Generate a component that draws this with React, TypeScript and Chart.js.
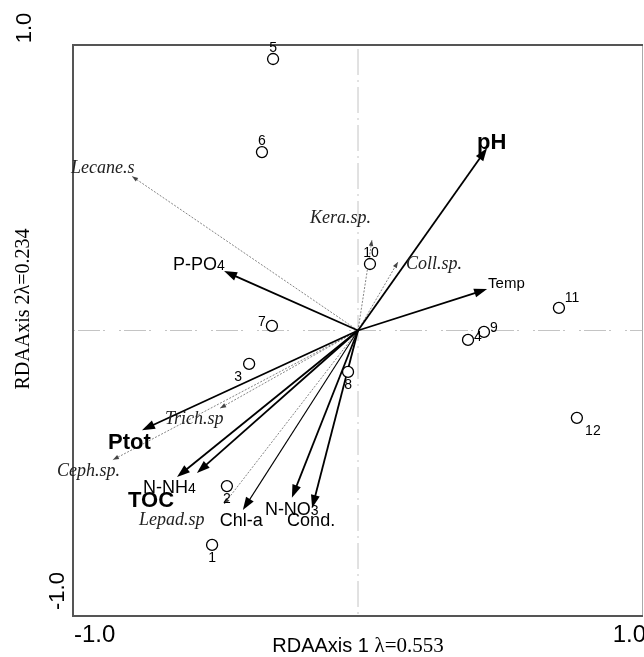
import React, { useEffect, useRef } from "react";
import { Chart, registerables } from "chart.js";

Chart.register(...registerables);

// ---- data ----
const siteLabels = ["1", "2", "3", "4", "5", "6", "7", "8", "9", "10", "11", "12"];
const siteX = [-0.512, -0.46, -0.382, 0.386, -0.298, -0.337, -0.302, -0.035, 0.442, 0.042, 0.705, 0.768];
const siteY = [-0.751, -0.545, -0.117, -0.033, 0.951, 0.625, 0.016, -0.145, -0.005, 0.233, 0.079, -0.306];

const envNames = ["pH", "Temp", "P-PO4", "Ptot", "TOC", "N-NH4", "Chl-a", "N-NO3", "Cond."];
const envX = [0.453, 0.453, -0.47, -0.758, -0.635, -0.565, -0.404, -0.232, -0.161];
const envY = [0.639, 0.145, 0.208, -0.349, -0.513, -0.499, -0.629, -0.586, -0.622];

const speciesNames = ["Lecane.s", "Kera.sp.", "Coll.sp.", "Trich.sp", "Ceph.sp.", "Lepad.sp"];
const speciesX = [-0.793, 0.049, 0.14, -0.484, -0.86, -0.47];
const speciesY = [0.54, 0.317, 0.24, -0.272, -0.453, -0.608];

const axisMin = -1.0;
const axisMax = 1.0;
const xTitleMain = "RDAAxis 1 ";
const xTitleLambda = "λ=0.553";
const yTitle = "RDAAxis 2λ=0.234";

// ---- styles (positions of labels relative to arrow tips / points, px) ----
const siteLabelOffsets: [number, number][] = [
  [0, 13], [0, 13], [-11, 13], [10, -3], [0, -11], [0, -11],
  [-10, -4], [0, 13], [10, -4], [1, -11], [13, -10], [16, 13],
];
// [dx, dy, fontSize, bold]
const envLabelStyle: [number, number, number, boolean][] = [
  [-10, 1, 22, true],
  [1, -1, 15, false],
  [-51, -1, 18, false],
  [-34, 19, 22, true],
  [-49, 30, 22, true],
  [-54, 20, 18, false],
  [-23, 16, 18, false],
  [-27, 17, 18, false],
  [-25, 18, 18, false],
];
const envThin = [false, false, false, false, false, false, true, false, false];
const speciesLabelOffsets: [number, number][] = [
  [-61, -3], [-62, -17], [8, 7], [-55, 16], [-56, 16], [-85, 21],
];

function arrowHead(ctx: CanvasRenderingContext2D, x0: number, y0: number, x1: number, y1: number, L: number, W: number) {
  const a = Math.atan2(y1 - y0, x1 - x0);
  const bx = x1 - L * Math.cos(a);
  const by = y1 - L * Math.sin(a);
  ctx.beginPath();
  ctx.moveTo(x1, y1);
  ctx.lineTo(bx + W * Math.sin(a), by - W * Math.cos(a));
  ctx.lineTo(bx - W * Math.sin(a), by + W * Math.cos(a));
  ctx.closePath();
  ctx.fill();
}

function drawSubLabel(ctx: CanvasRenderingContext2D, text: string, x: number, y: number, size: number, bold: boolean) {
  const m = text.match(/^([NP]-.*?)(\d)$/);
  const font = (s: number) => `${bold ? "bold " : ""}${s}px "Liberation Sans", Arial, sans-serif`;
  ctx.textAlign = "left";
  ctx.textBaseline = "alphabetic";
  if (m) {
    ctx.font = font(size);
    ctx.fillText(m[1], x, y);
    const w = ctx.measureText(m[1]).width;
    ctx.font = font(Math.round(size * 0.75));
    ctx.fillText(m[2], x + w, y);
  } else {
    ctx.font = font(size);
    ctx.fillText(text, x, y);
  }
}

const rdaPlugin = {
  id: "rda",
  beforeDatasetsDraw(chart: any) {
    const { ctx, chartArea: ca, scales } = chart;
    const xs = scales.x;
    const ys = scales.y;
    const cx = xs.getPixelForValue(0);
    const cy = ys.getPixelForValue(0);
    ctx.save();
    // center lines
    ctx.strokeStyle = "#c4c4c4";
    ctx.lineWidth = 1;
    ctx.setLineDash([26, 5, 2, 5]);
    ctx.beginPath();
    ctx.moveTo(cx, ca.top + 4);
    ctx.lineTo(cx, ca.bottom);
    ctx.stroke();
    ctx.setLineDash([2, 3, 22, 3, 2, 14]);
    ctx.beginPath();
    ctx.moveTo(ca.left, cy);
    ctx.lineTo(ca.right, cy);
    ctx.stroke();
    ctx.setLineDash([]);

    // box
    ctx.strokeStyle = "#aaaaaa";
    ctx.lineWidth = 1;
    ctx.beginPath();
    ctx.moveTo(ca.right - 0.5, ca.top);
    ctx.lineTo(ca.right - 0.5, ca.bottom);
    ctx.stroke();
    ctx.strokeStyle = "#555555";
    ctx.lineWidth = 2;
    ctx.beginPath();
    ctx.moveTo(ca.right, ca.top);
    ctx.lineTo(ca.left, ca.top);
    ctx.lineTo(ca.left, ca.bottom);
    ctx.lineTo(ca.right, ca.bottom);
    ctx.stroke();

    // species arrows
    speciesNames.forEach((_, i) => {
      const tx = xs.getPixelForValue(speciesX[i]);
      const ty = ys.getPixelForValue(speciesY[i]);
      ctx.strokeStyle = "#666666";
      ctx.fillStyle = "#444444";
      ctx.lineWidth = 0.8;
      ctx.setLineDash([2, 1.5]);
      ctx.beginPath();
      ctx.moveTo(cx, cy);
      ctx.lineTo(tx, ty);
      ctx.stroke();
      ctx.setLineDash([]);
      arrowHead(ctx, cx, cy, tx, ty, 6, 2.2);
    });

    // env arrows
    envNames.forEach((_, i) => {
      const tx = xs.getPixelForValue(envX[i]);
      const ty = ys.getPixelForValue(envY[i]);
      ctx.strokeStyle = "#000";
      ctx.fillStyle = "#000";
      ctx.lineWidth = envThin[i] ? 1.1 : 1.8;
      const a = Math.atan2(ty - cy, tx - cx);
      ctx.beginPath();
      ctx.moveTo(cx, cy);
      ctx.lineTo(tx - 8 * Math.cos(a), ty - 8 * Math.sin(a));
      ctx.stroke();
      arrowHead(ctx, cx, cy, tx, ty, 13, 4.5);
    });
    ctx.restore();
  },
  afterDatasetsDraw(chart: any) {
    const { ctx, scales, chartArea: ca } = chart;
    const xs = scales.x;
    const ys = scales.y;
    ctx.save();
    ctx.fillStyle = "#000";
    // site labels
    ctx.font = '14px "Liberation Sans", Arial, sans-serif';
    ctx.textAlign = "center";
    ctx.textBaseline = "middle";
    siteLabels.forEach((s, i) => {
      const px = xs.getPixelForValue(siteX[i]);
      const py = ys.getPixelForValue(siteY[i]);
      ctx.fillText(s, px + siteLabelOffsets[i][0], py + siteLabelOffsets[i][1]);
    });
    // env labels
    envNames.forEach((n, i) => {
      const tx = xs.getPixelForValue(envX[i]);
      const ty = ys.getPixelForValue(envY[i]);
      const [dx, dy, size, bold] = envLabelStyle[i];
      drawSubLabel(ctx, n, tx + dx, ty + dy, size, bold);
    });
    // species labels
    ctx.fillStyle = "#222";
    ctx.font = 'italic 18px "Liberation Serif", "Times New Roman", serif';
    ctx.textAlign = "left";
    ctx.textBaseline = "alphabetic";
    speciesNames.forEach((n, i) => {
      const tx = xs.getPixelForValue(speciesX[i]);
      const ty = ys.getPixelForValue(speciesY[i]);
      ctx.fillText(n, tx + speciesLabelOffsets[i][0], ty + speciesLabelOffsets[i][1]);
    });

    // tick labels
    ctx.fillStyle = "#000";
    ctx.font = '24px "Liberation Sans", Arial, sans-serif';
    ctx.textBaseline = "middle";
    ctx.textAlign = "left";
    ctx.fillText(axisMin.toFixed(1), ca.left + 1, ca.bottom + 19);
    ctx.textAlign = "right";
    ctx.fillText(axisMax.toFixed(1), ca.right + 3, ca.bottom + 19);
    ctx.font = '22px "Liberation Sans", Arial, sans-serif';
    ctx.save();
    ctx.translate(25, 28);
    ctx.rotate(-Math.PI / 2);
    ctx.textAlign = "center";
    ctx.fillText(axisMax.toFixed(1), 0, 0);
    ctx.restore();
    ctx.save();
    ctx.translate(58, 591);
    ctx.rotate(-Math.PI / 2);
    ctx.textAlign = "center";
    ctx.fillText(axisMin.toFixed(1), 0, 0);
    ctx.restore();

    // axis titles
    ctx.textBaseline = "middle";
    const f1 = '20px "Liberation Sans", Arial, sans-serif';
    const f2 = '21px "Liberation Serif", "Times New Roman", serif';
    ctx.font = f1;
    const w1 = ctx.measureText(xTitleMain).width;
    ctx.font = f2;
    const w2 = ctx.measureText(xTitleLambda).width;
    const startX = (ca.left + ca.right) / 2 - (w1 + w2) / 2;
    ctx.textAlign = "left";
    ctx.font = f1;
    ctx.fillText(xTitleMain, startX, 646);
    ctx.font = f2;
    ctx.fillText(xTitleLambda, startX + w1, 646);

    ctx.save();
    ctx.translate(24, 309);
    ctx.rotate(-Math.PI / 2);
    ctx.textAlign = "center";
    ctx.font = '20px "Liberation Serif", "Times New Roman", serif';
    ctx.fillText(yTitle, 0, 0);
    ctx.restore();
    ctx.restore();
  },
};

export default function App() {
  const ref = useRef<HTMLCanvasElement | null>(null);
  useEffect(() => {
    if (!ref.current) return;
    const chart = new Chart(ref.current, {
      type: "scatter",
      data: {
        datasets: [
          {
            label: "Sites",
            data: siteX.map((x, i) => ({ x, y: siteY[i] })),
            pointRadius: 5.5,
            pointBackgroundColor: "#ffffff",
            pointBorderColor: "#000000",
            pointBorderWidth: 1.3,
          },
        ],
      },
      options: {
        animation: false,
        responsive: false,
        devicePixelRatio: 1,
        layout: { autoPadding: false, padding: { left: 73, top: 45, right: 1, bottom: 41 } },
        plugins: { legend: { display: false }, tooltip: { enabled: false } },
        scales: {
          x: { type: "linear", min: axisMin, max: axisMax, display: false },
          y: { type: "linear", min: axisMin, max: axisMax, display: false },
        },
      },
      plugins: [rdaPlugin],
    });
    return () => chart.destroy();
  }, []);
  return (
    <div style={{ position: "fixed", left: 0, top: 0, width: 644, height: 657, background: "#fff" }}>
      <canvas ref={ref} width={644} height={657} />
    </div>
  );
}
